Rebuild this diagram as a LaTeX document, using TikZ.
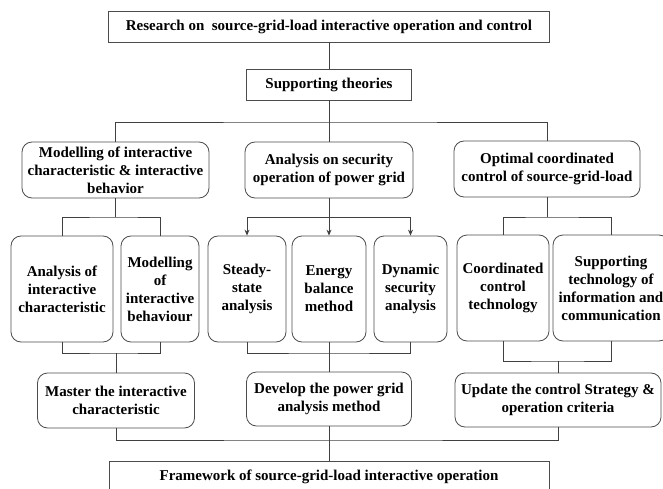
\documentclass[tikz,border=0pt]{standalone}
\usepackage{fontspec}
\setmainfont{Liberation Serif}
\usepackage{tikz}
\usetikzlibrary{arrows.meta}

\begin{document}
\begin{tikzpicture}[x=1pt,y=-1pt]
\useasboundingbox (0,0) rectangle (663,489);
\begin{scope}[every node/.style={rectangle,draw=black!70,line width=0.8pt,inner sep=0pt,align=center,font=\fontsize{15}{18}\selectfont\bfseries}]
    \node[minimum width=441pt,minimum height=31pt] (A) at (329,26.5) {Research on\ \ source-grid-load interactive operation and control};
    \node[minimum width=165pt,minimum height=31pt] (B) at (329,84.5) {Supporting theories};
    \node[minimum width=440pt,minimum height=31pt] (P) at (329,476.5) {Framework of source-grid-load interactive operation};

    \end{scope}

\begin{scope}[every node/.style={rectangle,rounded corners=10pt,draw=black!70,line width=0.8pt,inner sep=0pt,align=center,font=\fontsize{15}{18}\selectfont\bfseries}]
    \node[minimum width=187pt,minimum height=56pt] (C) at (115.5,170) {Modelling of interactive\\characteristic \& interactive\\behavior};
    \node[minimum width=168pt,minimum height=56pt] (D) at (329,170) {Analysis on security\\operation of power grid};
    \node[minimum width=186pt,minimum height=56pt] (E) at (547,169) {Optimal coordinated\\control of source-grid-load};

    \node[minimum width=102pt,minimum height=106pt] (F) at (62,289) {Analysis of\\interactive\\characteristic};
    \node[minimum width=78pt,minimum height=106pt] (G) at (160,289) {Modelling\\of\\interactive\\behaviour};
    \node[minimum width=78pt,minimum height=106pt] (H) at (247,289) {Steady-\\state\\analysis};
    \node[minimum width=74pt,minimum height=106pt] (I) at (329,289) {Energy\\balance\\method};
    \node[minimum width=73pt,minimum height=106pt] (J) at (410.5,289) {Dynamic\\security\\analysis};
    \node[minimum width=92pt,minimum height=106pt] (K) at (503,288) {Coordinated\\control\\technology};
    \node[minimum width=116pt,minimum height=106pt] (L) at (611,288) {Supporting\\technology of\\information and\\communication};

    \node[minimum width=157pt,minimum height=55pt] (M) at (116,400.5) {Master the interactive\\characteristic};
    \node[minimum width=165pt,minimum height=54pt] (N) at (329,399) {Develop the power grid\\analysis method};
    \node[minimum width=206pt,minimum height=54pt] (O) at (558,400) {Update the control Strategy \&\\operation criteria};

    \end{scope}

\begin{scope}[>={Stealth[black!75,length=6pt,width=5pt]},
              color=black!75, line width=0.9pt]
    \coordinate (b1) at (329,122);
    \coordinate (b2) at (115.5,217);
    \coordinate (b3) at (329,217);
    \coordinate (b4) at (547,217);
    \coordinate (c1) at (116,353);
    \coordinate (c2) at (329,353);
    \coordinate (c3) at (558,361);
    \coordinate (d1) at (329,440);

    \draw (A) -- (B);
    \draw (B) -- (D);
    \draw (C.north) |- (b1) -| (E.north);

    \draw (C) -- (b2);
    \draw (F.north) |- (b2) -| (G.north);
    \draw [->] (D) -- (I);
    \draw [->] (b3) -| (H.north);
    \draw [->] (b3) -| (J.north);
    \draw (E) -- (b4);
    \draw (K.north) |- (b4) -| (L.north);

    \draw (F.south) |- (c1) -| (G.south);
    \draw (c1) -- (M);
    \draw (H.south) |- (c2) -| (J.south);
    \draw (I) -- (N);
    \draw (K.south) |- (c3) -| (L.south);
    \draw (c3) -- (O);

    \draw (M.south) |- (d1) -| (O.south);
    \draw (N) -- (P);

    \end{scope}

\end{tikzpicture}
\end{document}
